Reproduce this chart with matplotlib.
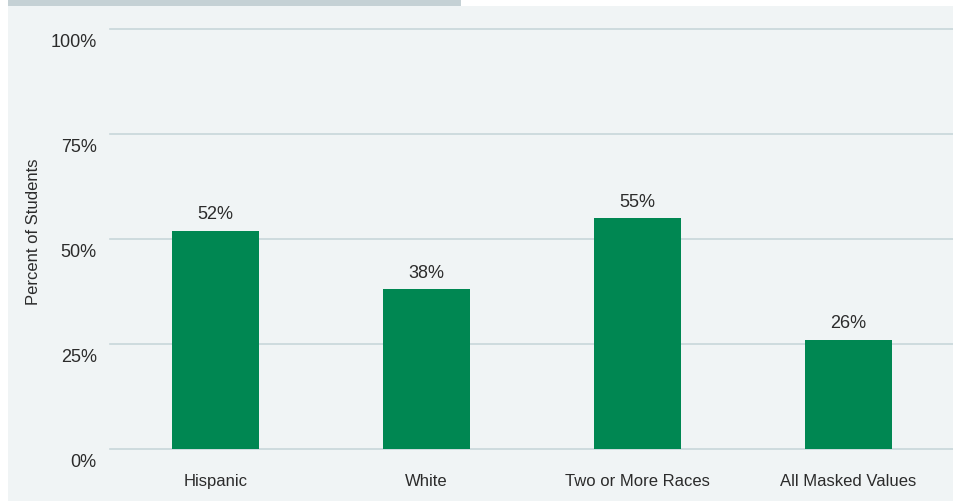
import matplotlib
matplotlib.use("Agg")
import matplotlib.pyplot as plt
import matplotlib.transforms as mtransforms
from matplotlib.patches import Rectangle

# Share of students by group
groups = ["Hispanic", "White", "Two or More Races", "All Masked Values"]
percents = [52, 38, 55, 26]
ytick_values = [0, 25, 50, 75, 100]
ytick_labels = ["0%", "25%", "50%", "75%", "100%"]

panel_bg = "#f0f4f5"
tab_color = "#c5d1d5"
bar_color = "#008752"
grid_color = "#c8d7da"
text_color = "#2b2b2b"

plt.rcParams["font.family"] = ["Liberation Sans", "DejaVu Sans"]

fig = plt.figure(figsize=(9.54, 5.02), dpi=100)
fig.patch.set_facecolor("white")

# background panel and top tab
fig.add_artist(Rectangle((8 / 954, -0.05), 1.1, 1.05 - 7 / 502, transform=fig.transFigure,
                         facecolor=panel_bg, edgecolor="none", zorder=-2))
fig.add_artist(Rectangle((8 / 954, 1 - 7 / 502), (461 - 8) / 954, 0.05,
                         transform=fig.transFigure, facecolor=tab_color,
                         edgecolor="none", zorder=-2))

# axes: x 110..954, y 30..450 (pixels)
ax = fig.add_axes([110 / 954, (502 - 450) / 502, (954 - 110) / 954, 420 / 502])
ax.set_facecolor("none")
ax.set_zorder(2)

x = range(len(groups))
ax.bar(x, percents, width=0.41, color=bar_color, zorder=3)
for xi, v in zip(x, percents):
    ax.annotate(f"{v}%", (xi, v), xytext=(0, 6), textcoords="offset points",
                ha="center", va="bottom", fontsize=13, color=text_color)

ax.set_xlim(-0.5, len(groups) - 0.5)
ax.set_ylim(0, 100)
ax.set_yticks(ytick_values)
ax.set_yticklabels(ytick_labels)
ax.set_xticks(list(x))
ax.set_xticklabels(groups)
ax.tick_params(axis="y", length=0, pad=9.5, labelsize=13, labelcolor=text_color)
ax.tick_params(axis="x", length=0, pad=17, labelsize=12, labelcolor=text_color)

# y labels hang a little below their gridline
shift = mtransforms.ScaledTranslation(0, -4 / 100, fig.dpi_scale_trans)
for lbl in ax.get_yticklabels():
    lbl.set_verticalalignment("top")
    lbl.set_transform(lbl.get_transform() + shift)

ax.grid(axis="y", color=grid_color, linewidth=1.2, zorder=1)
for gl in ax.get_ygridlines():
    gl.set_clip_on(False)
for s in ax.spines.values():
    s.set_visible(False)

fig.text(34 / 954, 1 - 232 / 502, "Percent of Students", rotation=90,
         ha="center", va="center", fontsize=12, color=text_color)

fig.savefig("out.png", dpi=100, facecolor=fig.get_facecolor())
